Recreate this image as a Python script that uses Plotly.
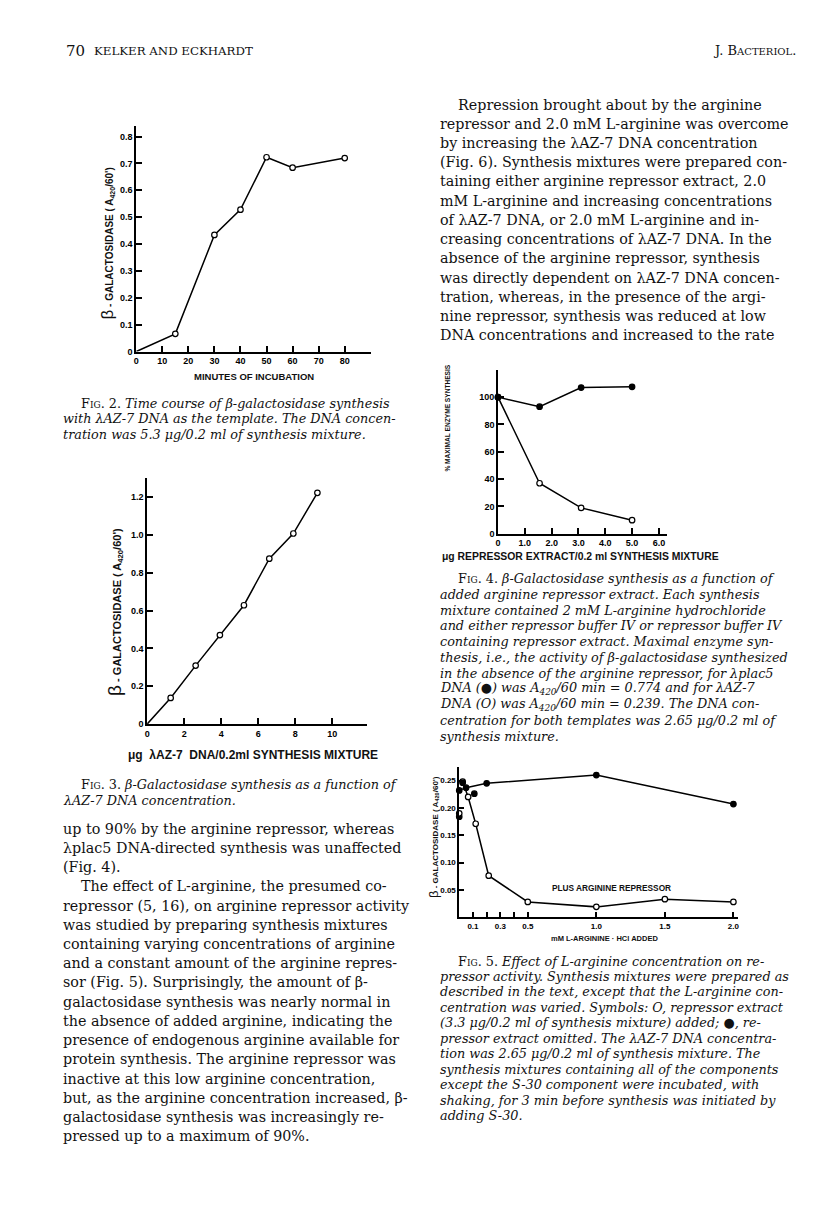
import plotly.graph_objects as go

W, H = 816, 1222

# ---------------- data ----------------
fig2_minutes = [0, 15, 30, 40, 50, 60, 80]
fig2_activity = [0, 0.066, 0.434, 0.528, 0.723, 0.684, 0.72]

fig3_dna = [0, 1.27, 2.62, 3.93, 5.23, 6.6, 7.9, 9.2]
fig3_activity = [0, 0.138, 0.309, 0.47, 0.628, 0.874, 1.007, 1.222]

fig4_extract = [0, 1.55, 3.1, 5.0]
fig4_plac5 = [100, 93, 107, 107.5]
fig4_az7 = [100, 37, 19, 10]

fig5_arg_rep = [0.025, 0.065, 0.12, 0.215, 0.5, 1.0, 1.5, 2.0]
fig5_act_rep = [0.248, 0.22, 0.171, 0.076, 0.028, 0.019, 0.033, 0.028]
fig5_arg_norep = [0.0, 0.05, 0.2, 1.0, 2.0]
fig5_act_norep = [0.232, 0.237, 0.245, 0.26, 0.207]
fig5_extra_open_x = [0.0]
fig5_extra_open_y = [0.19]
fig5_extra_fill_x = [0.0, 0.11, 0.025]
fig5_extra_fill_y = [0.184, 0.226, 0.246]

fig2_xticks = [0, 10, 20, 30, 40, 50, 60, 70, 80]
fig2_yticks = [0, 0.1, 0.2, 0.3, 0.4, 0.5, 0.6, 0.7, 0.8]
fig3_xticks = [0, 2, 4, 6, 8, 10]
fig3_yticks = [0, 0.2, 0.4, 0.6, 0.8, 1.0, 1.2]
fig4_xticks = [0, 1, 2, 3, 4, 5, 6]
fig4_xlabels = ["0", "1.0", "2.0", "3.0", "4.0", "5.0", "6.0"]
fig4_yticks = [0, 20, 40, 60, 80, 100]
fig5_xticks = [0.1, 0.2, 0.3, 0.4, 0.5, 1.0, 1.5, 2.0]
fig5_xlabels = ["0.1", " ", "0.3", " ", "0.5", "1.0", "1.5", "2.0"]
fig5_yticks = [0.05, 0.10, 0.15, 0.20, 0.25]
fig5_ylabels = ["0.05", "0.10", "0.15", "0.20", "0.25"]

right_top = [
    "Repression brought about by the arginine",
    "repressor and 2.0 mM L-arginine was overcome",
    "by increasing the λAZ-7 DNA concentration",
    "(Fig. 6). Synthesis mixtures were prepared con-",
    "taining either arginine repressor extract, 2.0",
    "mM L-arginine and increasing concentrations",
    "of λAZ-7 DNA, or 2.0 mM L-arginine and in-",
    "creasing concentrations of λAZ-7 DNA. In the",
    "absence of the arginine repressor, synthesis",
    "was directly dependent on λAZ-7 DNA concen-",
    "tration, whereas, in the presence of the argi-",
    "nine repressor, synthesis was reduced at low",
    "DNA concentrations and increased to the rate",
]
left_bottom = [
    "up to 90% by the arginine repressor, whereas",
    "λplac5 DNA-directed synthesis was unaffected",
    "(Fig. 4).",
    "The effect of L-arginine, the presumed co-",
    "repressor (5, 16), on arginine repressor activity",
    "was studied by preparing synthesis mixtures",
    "containing varying concentrations of arginine",
    "and a constant amount of the arginine repres-",
    "sor (Fig. 5). Surprisingly, the amount of β-",
    "galactosidase synthesis was nearly normal in",
    "the absence of added arginine, indicating the",
    "presence of endogenous arginine available for",
    "protein synthesis. The arginine repressor was",
    "inactive at this low arginine concentration,",
    "but, as the arginine concentration increased, β-",
    "galactosidase synthesis was increasingly re-",
    "pressed up to a maximum of 90%.",
]
cap2 = [
    "FIG. 2. Time course of β-galactosidase synthesis",
    "with λAZ-7 DNA as the template. The DNA concen-",
    "tration was 5.3 μg/0.2 ml of synthesis mixture.",
]
cap3 = [
    "FIG. 3. β-Galactosidase synthesis as a function of",
    "λAZ-7 DNA concentration.",
]
cap4 = [
    "FIG. 4. β-Galactosidase synthesis as a function of",
    "added arginine repressor extract. Each synthesis",
    "mixture contained 2 mM L-arginine hydrochloride",
    "and either repressor buffer IV or repressor buffer IV",
    "containing repressor extract. Maximal enzyme syn-",
    "thesis, i.e., the activity of β-galactosidase synthesized",
    "in the absence of the arginine repressor, for λplac5",
    "DNA (●) was A<sub>420</sub>/60 min = 0.774 and for λAZ-7",
    "DNA (O) was A<sub>420</sub>/60 min = 0.239. The DNA con-",
    "centration for both templates was 2.65 μg/0.2 ml of",
    "synthesis mixture.",
]
cap5 = [
    "FIG. 5. Effect of L-arginine concentration on re-",
    "pressor activity. Synthesis mixtures were prepared as",
    "described in the text, except that the L-arginine con-",
    "centration was varied. Symbols: O, repressor extract",
    "(3.3 μg/0.2 ml of synthesis mixture) added; ●, re-",
    "pressor extract omitted. The λAZ-7 DNA concentra-",
    "tion was 2.65 μg/0.2 ml of synthesis mixture. The",
    "synthesis mixtures containing all of the components",
    "except the S-30 component were incubated, with",
    "shaking, for 3 min before synthesis was initiated by",
    "adding S-30.",
]

# ---------------- helpers ----------------
def px(x):
    return x / W

def py(y):
    return 1 - y / H

SERIF = "DejaVu Serif"
SANS = "Liberation Sans"
LW = 1.6
BODY = 14.3
CAP = 12.8

fig = go.Figure()
annotations = []

def text(x, y, s, size=13, family=SERIF, xanchor="left", angle=0, style="normal", weight="normal", color="#111"):
    annotations.append(dict(
        x=px(x), y=py(y), xref="paper", yref="paper", text=s, showarrow=False,
        xanchor=xanchor, yanchor="middle", textangle=angle,
        font=dict(family=family, size=size, color=color, style=style, weight=weight),
    ))

def block(lines, x0, y0, dy, size, indents):
    for i, s in enumerate(lines):
        text(x0 + indents.get(i, 0), y0 + i * dy, s, size=size)

def caption(lines, x0, y0, dy, size):
    for i, s in enumerate(lines):
        if i == 0:
            head, rest = s[:7], s[7:]
            s = ("<span style='font-style:normal'>F<span style='font-size:9px'>IG</span>"
                 + head[3:] + "</span>" + rest)
            text(x0 + 18, y0, s, size=size, style="italic")
        else:
            text(x0, y0 + i * dy, s, size=size, style="italic")

def axis_common(**kw):
    d = dict(showline=True, linecolor="black", linewidth=LW, ticks="inside", ticklen=6,
             tickwidth=LW, tickcolor="black", showgrid=False, zeroline=False,
             tickfont=dict(family=SANS, size=9, color="black", weight="bold"), fixedrange=True)
    d.update(kw)
    return d

def series(x, y, xa, ya, filled=False, mode="lines+markers"):
    fig.add_trace(go.Scatter(
        x=x, y=y, xaxis=xa, yaxis=ya, mode=mode,
        line=dict(color="black", width=1.5),
        marker=dict(size=5.5, symbol="circle",
                    color="black" if filled else "white",
                    line=dict(color="black", width=1.2)),
        cliponaxis=False, showlegend=False, hoverinfo="skip"))

layout = dict(width=W, height=H, margin=dict(l=0, r=0, t=0, b=0),
              paper_bgcolor="white", plot_bgcolor="white", showlegend=False)

# ---- Fig 2 ----
layout["xaxis"] = axis_common(domain=[px(126), px(362)], range=[0, 90], anchor="y",
                              tickvals=fig2_xticks, ticktext=[str(v) for v in fig2_xticks])
layout["yaxis"] = axis_common(domain=[py(345), py(118)], range=[0, 0.841], anchor="x",
                              tickvals=fig2_yticks, ticktext=["0"] + [f"{v:.1f}" for v in fig2_yticks[1:]])
series(fig2_minutes, fig2_activity, "x", "y", mode="lines")
series(fig2_minutes[1:], fig2_activity[1:], "x", "y", mode="markers")

# ---- Fig 3 ----
layout["xaxis2"] = axis_common(domain=[px(137), px(358)], range=[0, 11.87], anchor="y2",
                               tickvals=fig3_xticks, ticktext=[str(v) for v in fig3_xticks])
layout["yaxis2"] = axis_common(domain=[py(719), py(472)], range=[0, 1.3], anchor="x2",
                               tickvals=fig3_yticks, ticktext=["0"] + [f"{v:.1f}" for v in fig3_yticks[1:]])
series(fig3_dna, fig3_activity, "x2", "y2", mode="lines")
series(fig3_dna[1:], fig3_activity[1:], "x2", "y2", mode="markers")

# ---- Fig 4 ----
layout["xaxis3"] = axis_common(domain=[px(490), px(660)], range=[0, 6.3], anchor="y3",
                               tickvals=fig4_xticks, ticktext=fig4_xlabels)
layout["yaxis3"] = axis_common(domain=[py(528), py(363)], range=[0, 120.2], anchor="x3",
                               tickvals=fig4_yticks, ticktext=[str(v) for v in fig4_yticks])
series(fig4_extract, fig4_az7, "x3", "y3", filled=False)
series(fig4_extract, fig4_plac5, "x3", "y3", filled=True)

# ---- Fig 5 ----
small_tick = dict(family=SANS, size=8, color="black", weight="bold")
layout["xaxis4"] = axis_common(domain=[px(451), px(731)], range=[0, 2.03], anchor="y4",
                               tickvals=fig5_xticks, ticktext=fig5_xlabels, ticklen=5, tickfont=small_tick)
layout["yaxis4"] = axis_common(domain=[py(913), py(762)], range=[0, 0.275], anchor="x4",
                               tickvals=fig5_yticks, ticktext=fig5_ylabels, ticklen=5, tickfont=small_tick)
series(fig5_arg_rep, fig5_act_rep, "x4", "y4", filled=False)
series(fig5_arg_norep, fig5_act_norep, "x4", "y4", filled=True)
series(fig5_extra_fill_x, fig5_extra_fill_y, "x4", "y4", filled=True, mode="markers")
series(fig5_extra_open_x, fig5_extra_open_y, "x4", "y4", filled=False, mode="markers")

# ---------------- axis titles ----------------
def ylab(beta_size):
    return ("<span style='font-size:%dpx;font-weight:normal'>β</span> - GALACTOSIDASE ( A<sub>420</sub>/60')"
            % beta_size)

text(97, 236, ylab(17), size=10, family=SANS, xanchor="center", angle=-90, weight="bold")
text(244, 370, "MINUTES OF INCUBATION", size=9.5, family=SANS, xanchor="center", weight="bold")

text(104, 606, ylab(19), size=11, family=SANS, xanchor="center", angle=-90, weight="bold")
text(243, 750, "μg  λAZ-7  DNA/0.2ml SYNTHESIS MIXTURE", size=12, family=SANS, xanchor="center", weight="bold")

text(439, 412, "% MAXIMAL ENZYME SYNTHESIS", size=6.6, family=SANS, xanchor="center", angle=-90, weight="bold")
text(573, 551, "μg REPRESSOR EXTRACT/0.2 ml SYNTHESIS MIXTURE", size=10.4, family=SANS, xanchor="center", weight="bold")

text(425, 832, ylab(13), size=8, family=SANS, xanchor="center", angle=-90, weight="bold")
text(597, 934, "mM L-ARGININE · HCl ADDED", size=7.5, family=SANS, xanchor="center", weight="bold")
text(604, 884, "PLUS ARGININE REPRESSOR", size=8.3, family=SANS, xanchor="center", weight="bold")

# ---------------- page text ----------------
text(53, 43, "70", size=15)
text(82, 43, "KELKER AND ECKHARDT", size=11.8)
text(792, 43, "J. B<span style='font-size:10px'>ACTERIOL</span>.", size=13, xanchor="right")

block(right_top, 430, 97, 19.3, BODY, {0: 18})
block(left_bottom, 50, 824, 19.3, BODY, {3: 18})

caption(cap2, 50, 397, 15.5, CAP)
caption(cap3, 50, 780, 15.5, CAP)
caption(cap4, 430, 573, 15.8, CAP)
caption(cap5, 430, 957, 15.5, CAP)

layout["annotations"] = annotations
fig.update_layout(**layout)
fig.write_html("out.html")
